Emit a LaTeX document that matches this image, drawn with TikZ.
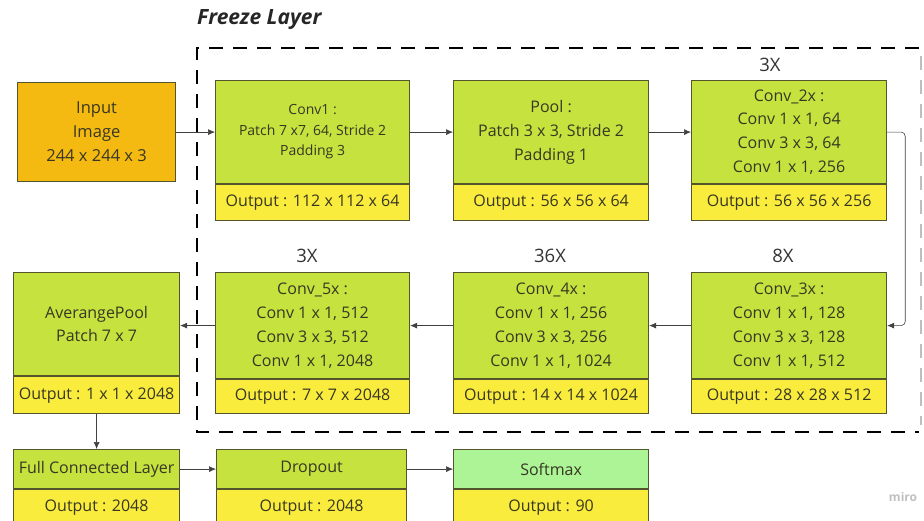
\documentclass[tikz,border=0pt]{standalone}
\usepackage{fontspec}
\setmainfont{Open Sans}
\usetikzlibrary{arrows.meta}
\definecolor{gfill}{RGB}{198,226,62}
\definecolor{yfill}{RGB}{250,236,60}
\definecolor{ofill}{RGB}{245,186,18}
\definecolor{sfill}{RGB}{172,244,150}
\definecolor{edgec}{RGB}{85,85,45}
\definecolor{txt}{RGB}{55,55,35}
\begin{document}
\begin{tikzpicture}[x=1pt,y=-1pt,
  blk/.style={draw=edgec, line width=1.2pt, anchor=north west, inner sep=0pt, text=txt, align=center, font=\fontsize{16}{23.8}\selectfont},
  gbox/.style={blk, fill=gfill},
  ybox/.style={blk, fill=yfill},
  sbox/.style={blk, fill=sfill},
  obox/.style={blk, fill=ofill},
  rep/.style={text=black!80, font=\fontsize{18.5}{20}\selectfont},
  arr/.style={-{Latex[length=7pt,width=6pt]}, line width=0.6pt, draw=black!75}]
\useasboundingbox (0,0) rectangle (924,521);
% freeze layer frame
\node[font=\fontsize{21}{24}\selectfont\bfseries\itshape, text=black!85, anchor=west, inner sep=0pt] (fz) at (197,20) {Freeze Layer};
\draw[line width=2.6pt, dash pattern=on 14pt off 10pt] (919,48) -- (197,48) -- (197,432) -- (919,432);
\draw[line width=1.5pt, dash pattern=on 14pt off 10pt, draw=black!25] (921,56) -- (921,425);
% input
\node[obox, minimum width=158pt, minimum height=99pt, font=\fontsize{16.5}{24}\selectfont] (in) at (17,82) {Input\\Image\\244 x 244 x 3};
% row 1
\node[gbox, minimum width=194pt, minimum height=103pt, font=\fontsize{14}{20.5}\selectfont] (c1) at (215,80) {Conv1 :\\Patch 7 x7, 64, Stride 2\\Padding 3};
\node[ybox, minimum width=194pt, minimum height=36pt] (c1o) at (c1.south west) {Output : 112 x 112 x 64};
\node[gbox, minimum width=195pt, minimum height=103pt] (pl) at (453,80) {Pool :\\Patch 3 x 3, Stride 2\\Padding 1};
\node[ybox, minimum width=195pt, minimum height=36pt] (plo) at (pl.south west) {Output : 56 x 56 x 64};
\node[gbox, minimum width=195pt, minimum height=103pt] (c2) at (691,80) {Conv\_2x :\\Conv 1 x 1, 64\\Conv 3 x 3, 64\\Conv 1 x 1, 256};
\node[ybox, minimum width=195pt, minimum height=36pt] (c2o) at (c2.south west) {Output : 56 x 56 x 256};
\node[rep] (r2) at (770,65) {3X};
% row 2
\node[gbox, minimum width=195pt, minimum height=106pt] (c3) at (691,272) {Conv\_3x :\\Conv 1 x 1, 128\\Conv 3 x 3, 128\\Conv 1 x 1, 512};
\node[ybox, minimum width=195pt, minimum height=34pt] (c3o) at (c3.south west) {Output : 28 x 28 x 512};
\node[rep] (r3) at (783,256) {8X};
\node[gbox, minimum width=195pt, minimum height=106pt] (c4) at (453,272) {Conv\_4x :\\Conv 1 x 1, 256\\Conv 3 x 3, 256\\Conv 1 x 1, 1024};
\node[ybox, minimum width=195pt, minimum height=34pt] (c4o) at (c4.south west) {Output : 14 x 14 x 1024};
\node[rep] (r4) at (550,256) {36X};
\node[gbox, minimum width=194pt, minimum height=106pt] (c5) at (215,272) {Conv\_5x :\\Conv 1 x 1, 512\\Conv 3 x 3, 512\\Conv 1 x 1, 2048};
\node[ybox, minimum width=194pt, minimum height=34pt] (c5o) at (c5.south west) {Output : 7 x 7 x 2048};
\node[rep] (r5) at (307,256) {3X};
\node[gbox, minimum width=166pt, minimum height=103pt] (ap) at (13,272) {AverangePool\\Patch 7 x 7};
\node[ybox, minimum width=166pt, minimum height=37pt] (apo) at (ap.south west) {Output : 1 x 1 x 2048};
% row 3
\node[gbox, minimum width=166pt, minimum height=39pt] (fc) at (13,449) {Full Connected Layer};
\node[ybox, minimum width=166pt, minimum height=36pt] (fco) at (fc.south west) {Output : 2048};
\node[gbox, minimum width=190pt, minimum height=39pt] (dp) at (216,449) {Dropout};
\node[ybox, minimum width=190pt, minimum height=36pt] (dpo) at (dp.south west) {Output : 2048};
\node[sbox, minimum width=195pt, minimum height=39pt] (sm) at (453,449) {Softmax};
\node[ybox, minimum width=195pt, minimum height=36pt] (smo) at (sm.south west) {Output : 90};
% watermark
\node[text=black!25, font=\fontsize{12}{13}\selectfont\bfseries] (miro) at (903,497) {miro};
% connectors
\draw[arr] (in.east) -- (in.east -| c1.west);
\draw[arr] (c1.east) -- (c1.east -| pl.west);
\draw[arr] (pl.east) -- (pl.east -| c2.west);
\draw[arr, rounded corners=4pt] (c2.east) -- ++(18,0) |- (c3.east);
\draw[arr] (c3.west) -- (c3.west -| c4.east);
\draw[arr] (c4.west) -- (c4.west -| c5.east);
\draw[arr] (c5.west) -- (c5.west -| ap.east);
\draw[arr] (apo.south) -- (fc.north);
\draw[arr] (fc.east) -- (fc.east -| dp.west);
\draw[arr] (dp.east) -- (dp.east -| sm.west);
\end{tikzpicture}
\end{document}
